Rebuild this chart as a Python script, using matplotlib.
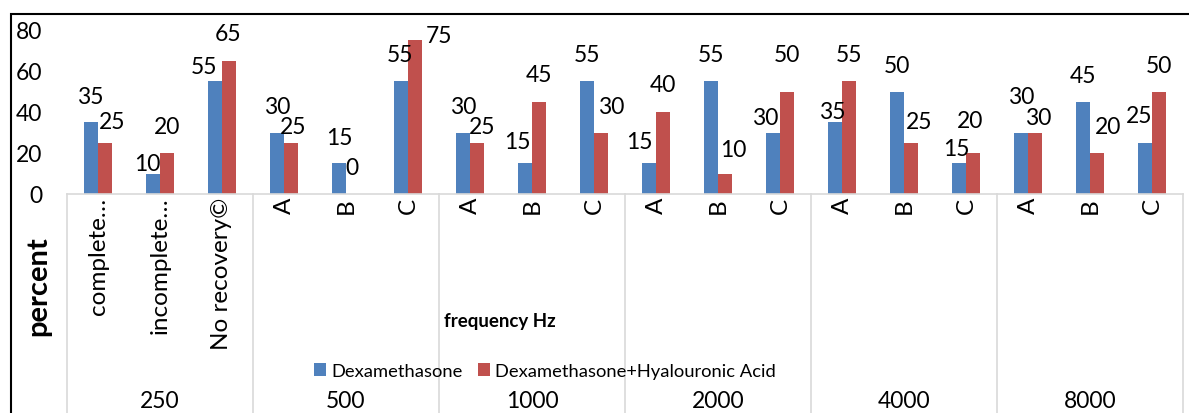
import matplotlib
matplotlib.use("Agg")
import matplotlib.pyplot as plt
from matplotlib.patches import Rectangle

plt.rcParams["font.family"] = ["Lato", "DejaVu Sans"]

groups = ["250", "500", "1000", "2000", "4000", "8000"]
categories = ["complete…", "incomplete…", "No recovery©",
              "A", "B", "C", "A", "B", "C", "A", "B", "C",
              "A", "B", "C", "A", "B", "C"]
dexa = [35, 10, 55, 30, 15, 55, 30, 15, 55, 15, 55, 30, 35, 50, 15, 30, 45, 25]
dexa_ha = [25, 20, 65, 25, 0, 75, 25, 45, 30, 40, 10, 50, 55, 25, 20, 30, 20, 50]
series_names = ["Dexamethasone", "Dexamethasone+Hyalouronic Acid"]

BLUE = "#4F81BD"
RED = "#C0504D"
GRID = "#d9d9d9"

# label nudges (pixels, dx / dy above bar top) to mimic the source layout
blue_off = [(-1, 26), (-6, 10), (-11, 15), (0, 26), (0, 26), (-1, 27),
            (0, 26), (-8, 22), (0, 27), (-10, 22), (0, 27), (-8, 15),
            (-3, 11), (0, 26), (-3, 15), (0, 36), (0, 26), (-6, 27)]
red_off = [(7, 21), (0, 26), (-1, 27), (2, 16), (-1, 26), (24, 5),
           (5, 16), (0, 27), (10, 26), (0, 27), (8, 24), (0, 37),
           (0, 27), (8, 21), (-3, 32), (3, 15), (11, 26), (0, 26)]

W, H = 1189, 414
fig = plt.figure(figsize=(W / 100, H / 100), dpi=100)
ax = fig.add_axes([67 / W, (H - 195) / H, 1116 / W, 164 / H])

n = len(categories)
x = list(range(n))
bw = 14 / 62
ax.bar([i - bw / 2 for i in x], dexa, width=bw, color=BLUE, label=series_names[0])
ax.bar([i + bw / 2 for i in x], dexa_ha, width=bw, color=RED, label=series_names[1])

for i in x:
    ax.annotate(str(dexa[i]), (i - bw / 2, dexa[i]), xytext=blue_off[i],
                textcoords="offset pixels", ha="center", va="center", fontsize=16.5)
    ax.annotate(str(dexa_ha[i]), (i + bw / 2, dexa_ha[i]), xytext=red_off[i],
                textcoords="offset pixels", ha="center", va="center", fontsize=16.5)

ax.set_xlim(-0.5, n - 0.5)
ax.set_ylim(0, 80)
ax.set_yticks([0, 20, 40, 60, 80])
ax.tick_params(axis="y", length=0, pad=18, labelsize=16.5)
ax.set_xticks(x)
ax.set_xticklabels(categories, rotation=90, fontsize=17.5)
ax.tick_params(axis="x", length=0, pad=2)
for s in ["top", "right", "left"]:
    ax.spines[s].set_visible(False)
ax.spines["bottom"].set_color(GRID)
ax.spines["bottom"].set_linewidth(1.2)

# group dividers of the two-level category axis
tr = ax.get_xaxis_transform()
bottom_y = -(H - 195) / 164
for k in range(len(groups) + 1):
    xb = -0.5 + 3 * k
    ax.plot([xb, xb], [0, bottom_y], transform=tr, color=GRID, lw=1.2,
            clip_on=False)
for k, g in enumerate(groups):
    ax.text(3 * k + 1, -(402 - 195) / 164, g, transform=tr, ha="center",
            va="center", fontsize=16.5)

fig.text(38 / W, 1 - 286 / H, "percent", rotation=90, ha="center",
         va="center", fontsize=21, fontweight="bold")
fig.text(500 / W, 1 - 322 / H, "frequency Hz", ha="center", va="center",
         fontsize=13.5, fontweight="bold")

fig.legend(loc="center", bbox_to_anchor=(545 / W, 1 - 372 / H), ncol=2,
           frameon=False, fontsize=13.2, handlelength=0.65, handleheight=0.65,
           handletextpad=0.3, columnspacing=0.8, borderpad=0)

# outer chart border (cropped on right/bottom)
fig.patches.append(Rectangle((11 / W, -0.1), 1.2, 1 - 15 / H + 0.1,
                             transform=fig.transFigure, fill=False,
                             edgecolor="black", lw=1.5))

fig.savefig("out.png", dpi=100)
